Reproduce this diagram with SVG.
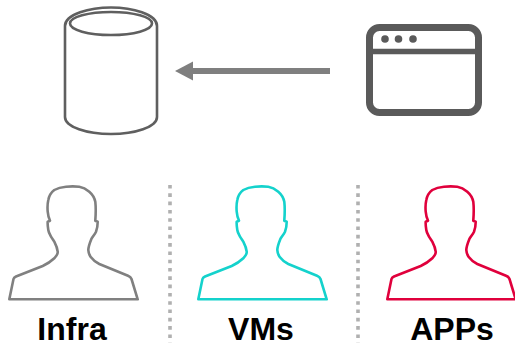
<svg xmlns="http://www.w3.org/2000/svg" xmlns:xlink="http://www.w3.org/1999/xlink" width="515" height="343" viewBox="0 0 515 343">
<style>
.person{fill:none;stroke-width:2.6;stroke-linejoin:round}
.label{font-family:"Liberation Sans",Arial,sans-serif;font-weight:700;font-size:32px;fill:#000;text-anchor:middle}
.sep{stroke:#b0b0b0;stroke-width:3.6;stroke-dasharray:3.6 4.7;fill:none}
.db{fill:none;stroke:#5f5f5f;stroke-width:2.6}
.win{fill:none;stroke:#5a5a5a}
</style>
<defs>
<path id="p" d="M9.300 299.300 L13.500 279 C13.800 277.800 14.500 277.200 16 276.500 L42.700 266 C47 264 51 261.500 54.300 258.300 C56.500 256 58 254 57.700 251.700 C57.300 248 56 245 54.300 241.700 C53 239.500 52 238.500 51 236.700 C49.500 234 48.500 232 48.300 230 C47.800 227 47.500 224.500 47.700 221.700 L50 220.700 C48.500 218 48 215 47.700 211.700 C47.300 207 47.500 203.500 48.300 200 C49 196 51 192.500 54.300 190 C58 187.800 62 187 66 186.700 C70.500 186.300 75 186.300 79.300 186.700 C83 187.300 86.500 189.300 89.300 191.700 C92.500 194.500 94.500 197.500 95.300 201.700 C96 208 95.800 214 95.300 220.700 L97.700 221.700 C97.700 225.500 97 229 96 231.700 C94.700 234.500 93 236 91.700 238.300 C90.200 242 88.500 246 88.300 250 C88.500 253 89.500 255.500 91 257.300 C93 260 96 262.500 99.300 264 L128 275.800 C130 276.600 131 277.500 131.500 279 L137.700 299.300 Z"/>
</defs>
<g id="connectors">
<path d="M330 71 H190" stroke="#7f7f7f" stroke-width="6" fill="none"/>
<path d="M175 71 L193 61.500 V80.500 Z" fill="#7f7f7f"/>
<path class="sep" d="M170 185 V343"/>
<path class="sep" d="M358 185 V343"/>
</g>
<g id="database">
<path class="db" d="M65 26 C65 14 90 7.500 111 7.500 C132 7.500 157 14 157 26 V117 C157 127 135 134 111 134 C87 134 65 127 65 117 Z"/>
<ellipse class="db" cx="111" cy="23.500" rx="41" ry="11.500"/>
</g>
<g id="window">
<rect class="win" x="369.500" y="27.500" width="109" height="85" rx="10" stroke-width="7"/>
<path class="win" d="M370 51.500 H478" stroke-width="5.500"/>
<circle cx="385" cy="39" r="3.800" fill="#5a5a5a"/>
<circle cx="398.500" cy="39" r="3.800" fill="#5a5a5a"/>
<circle cx="413" cy="39" r="3.800" fill="#5a5a5a"/>
</g>
<g id="infra">
<use xlink:href="#p" href="#p" class="person" stroke="#808080"/>
<text class="label" x="72" y="340">Infra</text>
</g>
<g id="vms">
<use xlink:href="#p" href="#p" class="person" stroke="#14d2cc" x="189"/>
<text class="label" x="261" y="340">VMs</text>
</g>
<g id="apps">
<use xlink:href="#p" href="#p" class="person" stroke="#e0003c" x="378"/>
<text class="label" x="452" y="340">APPs</text>
</g>
</svg>
